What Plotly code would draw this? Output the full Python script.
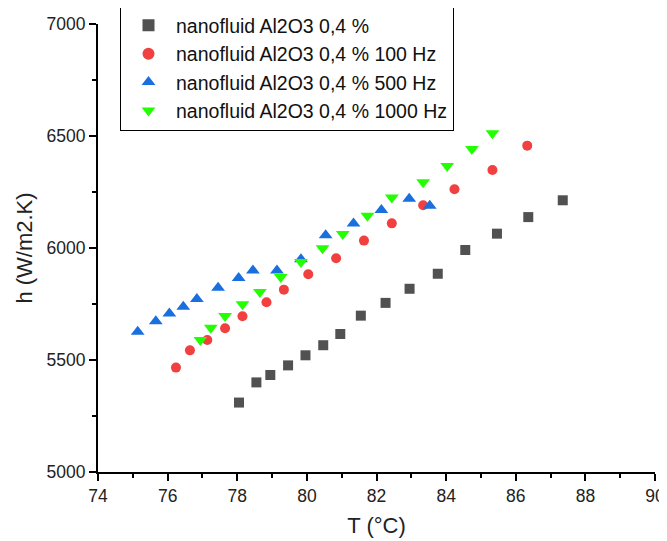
import plotly.graph_objects as go

# ---- data ----
names = ["nanofluid Al2O3 0,4 %", "nanofluid Al2O3 0,4 % 100 Hz",
         "nanofluid Al2O3 0,4 % 500 Hz", "nanofluid Al2O3 0,4 % 1000 Hz"]

T_base = [78.05, 78.55, 78.95, 79.46, 79.96, 80.47, 80.96, 81.55, 82.26, 82.95,
          83.76, 84.55, 85.46, 86.36, 87.35]
h_base = [5310, 5400, 5433, 5476, 5521, 5566, 5616, 5698, 5755, 5818,
          5885, 5991, 6064, 6138, 6213]

T_100 = [76.24, 76.64, 77.14, 77.65, 78.15, 78.84, 79.34, 80.04, 80.84, 81.64,
         82.44, 83.34, 84.24, 85.33, 86.33]
h_100 = [5466, 5543, 5589, 5642, 5695, 5758, 5814, 5883, 5954, 6033,
         6110, 6191, 6262, 6348, 6457]

T_500 = [75.14, 75.66, 76.05, 76.45, 76.84, 77.45, 78.04, 78.45, 79.14, 79.83,
         80.54, 81.34, 82.14, 82.94, 83.53]
h_500 = [5626, 5673, 5708, 5738, 5772, 5823, 5866, 5900, 5899, 5950,
         6057, 6109, 6170, 6220, 6189]

T_1000 = [76.94, 77.24, 77.65, 78.15, 78.65, 79.25, 79.83, 80.45, 81.03, 81.74,
          82.44, 83.34, 84.03, 84.74, 85.33]
h_1000 = [5589, 5644, 5696, 5749, 5804, 5871, 5937, 5999, 6062, 6144,
          6226, 6293, 6366, 6442, 6512]

x_ticks = list(range(74, 91, 2))
y_ticks = [5000, 5500, 6000, 6500, 7000]

series = [
    (T_base, h_base, names[0], "square", "#515151", 10),
    (T_100, h_100, names[1], "circle", "#F14040", 10),
    (T_500, h_500, names[2], "triangle-up", "#1A6FDF", 12),
    (T_1000, h_1000, names[3], "triangle-down", "#22FF00", 12),
]

FONT = "Liberation Sans, Arial, sans-serif"

fig = go.Figure()
for xs, ys, nm, sym, col, sz in series:
    fig.add_trace(go.Scatter(
        x=xs, y=ys, mode="markers", name=nm,
        marker=dict(symbol=sym, color=col, size=sz, line=dict(width=0)),
    ))

axis_common = dict(
    showline=True, linecolor="black", linewidth=2, mirror=False,
    ticks="outside", ticklen=7, tickwidth=2, tickcolor="black",
    showgrid=False, zeroline=False, automargin=False,
    tickfont=dict(family=FONT, size=17.5, color="#222222"),
)

fig.update_xaxes(
    range=[74, 90], tickvals=x_ticks,
    title=dict(text="T (°C)", font=dict(family=FONT, size=22, color="#222222"), standoff=13),
    minor=dict(ticks="outside", ticklen=4, tickwidth=2, tickcolor="black", dtick=1),
    **axis_common,
)
fig.update_yaxes(
    range=[5000, 7000], tickvals=y_ticks,
    title=dict(text="h (W/m2.K)", font=dict(family=FONT, size=22, color="#222222"), standoff=8),
    minor=dict(ticks="outside", ticklen=4, tickwidth=2, tickcolor="black", dtick=250),
    **axis_common,
)

# page body has an 8px margin, so the figure is sized/offset to compensate
fig.update_layout(
    width=659, height=533,
    margin=dict(l=90, r=12, t=16, b=69, autoexpand=False),
    plot_bgcolor="white", paper_bgcolor="white",
    font=dict(family=FONT, size=17.5, color="#111111"),
    legend=dict(
        x=0.0395, y=1.042, xanchor="left", yanchor="top",
        bgcolor="white", bordercolor="black", borderwidth=1,
        font=dict(family=FONT, size=19.5, color="#111111"),
        itemsizing="constant", tracegroupgap=0, itemwidth=45,
    ),
)

fig.write_html("out.html")
